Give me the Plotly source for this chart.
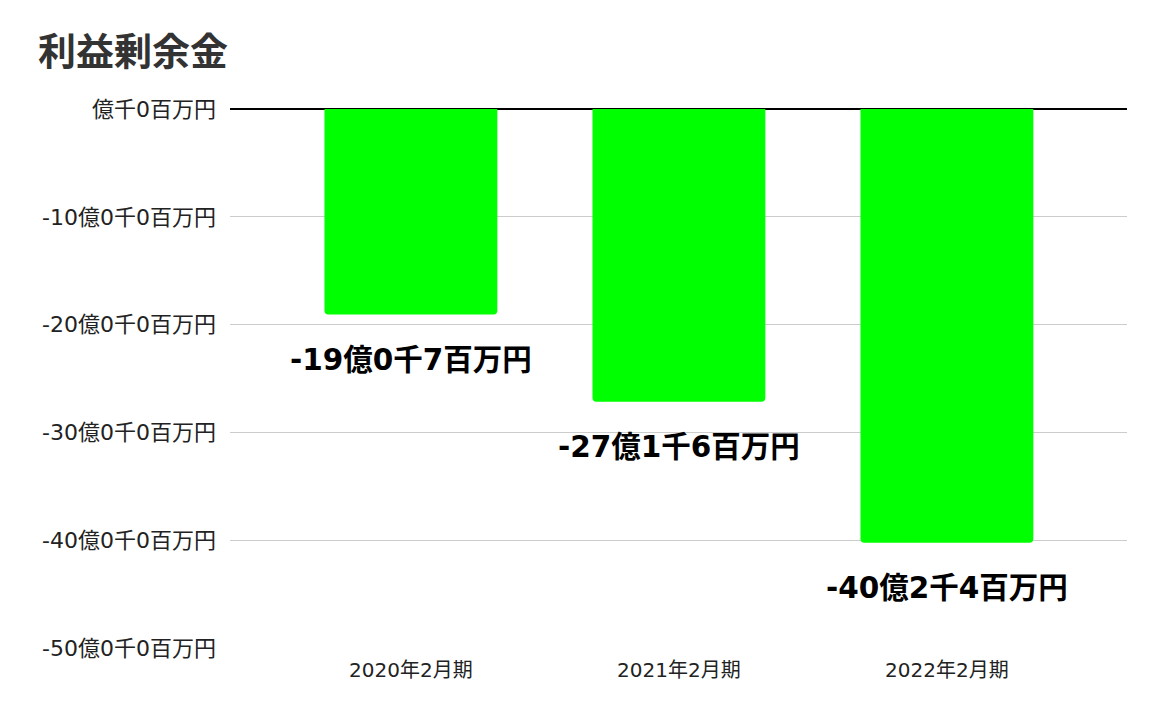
import plotly.graph_objects as go

categories = ["2020年2月期", "2021年2月期", "2022年2月期"]
values = [-1907, -2716, -4024]  # 百万円
value_labels = ["-19億0千7百万円", "-27億1千6百万円", "-40億2千4百万円"]
tick_values = [0, -1000, -2000, -3000, -4000, -5000]
tick_labels = ["億千0百万円", "-10億0千0百万円", "-20億0千0百万円",
               "-30億0千0百万円", "-40億0千0百万円", "-50億0千0百万円"]

CJK = "Noto Sans CJK JP"
MIX = "DejaVu Sans, Noto Sans CJK JP"

W, H = 1148, 704  # page has 8px body margin

fig = go.Figure()
fig.add_trace(go.Bar(
    x=categories, y=values,
    marker=dict(color="#00FF00", line=dict(width=0), cornerradius=4),
    width=0.645,
    hoverinfo="skip",
))

for c, v, t in zip(categories, values, value_labels):
    fig.add_annotation(
        x=c, y=v, text="<b>" + t + "</b>", showarrow=False,
        yanchor="middle", yshift=-45,
        font=dict(family=MIX, size=29.5, color="#000000"),
    )

fig.update_layout(
    width=W, height=H,
    margin=dict(l=222, r=29, t=101, b=64),
    paper_bgcolor="white", plot_bgcolor="white",
    showlegend=False,
    font=dict(family=MIX, color="#222222"),
    title=dict(
        text="<b>利益剰余金</b>", x=30 / W, xref="container", xanchor="left",
        y=1 - 44 / H, yref="container", yanchor="middle",
        font=dict(family=CJK, size=38, color="#333333"),
    ),
)

fig.update_xaxes(
    range=[-0.675, 2.672], showgrid=False, showline=False,
    tickfont=dict(family=MIX, size=20, color="#222222"),
    ticks="", ticklabelstandoff=8, fixedrange=True,
)
fig.update_yaxes(
    range=[-5000, 0], tickvals=tick_values, ticktext=tick_labels,
    showgrid=True, gridcolor="#CCCCCC", gridwidth=1.2,
    zeroline=True, zerolinecolor="#000000", zerolinewidth=1.5,
    showline=False, ticks="", ticklabelstandoff=13,
    tickfont=dict(family=MIX, size=22, color="#222222"),
    fixedrange=True,
)

fig.write_html("out.html")
